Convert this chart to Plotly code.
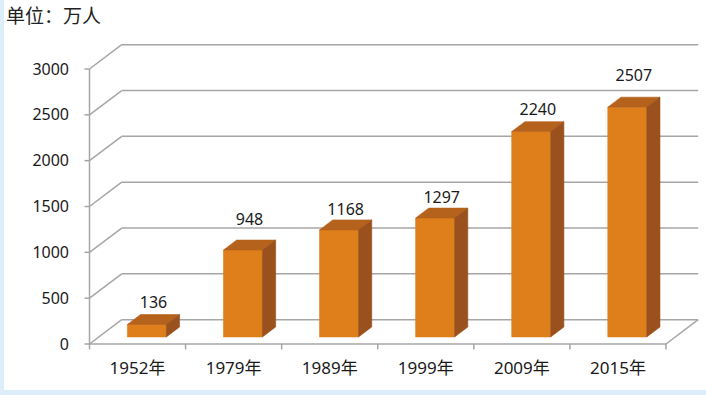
import plotly.graph_objects as go

# ---------------- data ----------------
categories = ["1952年", "1979年", "1989年", "1999年", "2009年", "2015年"]
values = [136, 948, 1168, 1297, 2240, 2507]
y_ticks = [0, 500, 1000, 1500, 2000, 2500, 3000]
unit_label = "单位：万人"

# ---------------- style / geometry ----------------
W, H = 706, 395
L, R, T, B = 80, 2, 40, 40
PX_PER_CAT = 96.08
PX_PER_UNIT = 275 / 3000
ZERO_PX = 344
AXIS_PX = 89.5

plot_w = W - L - R
plot_h = H - T - B
xmin = -(AXIS_PX - L) / PX_PER_CAT
xmax = xmin + plot_w / PX_PER_CAT
ymax = (ZERO_PX - T) / PX_PER_UNIT
ymin = ymax - plot_h / PX_PER_UNIT

DX = 32.2 / PX_PER_CAT          # depth shift in category units
DY = 24.3 / PX_PER_UNIT         # depth shift in value units
Z0, Z1 = 0.29, 0.70             # bar depth extent
BAR_W = 39 / PX_PER_CAT
GRID = "#A6A6A6"
GW = 1.5
FRONT, SIDE, TOP = "#DF7F1B", "#9A511D", "#B5621D"
label_lift_px = [11, 19, 9, 9, 11, 20]
FONT = "Noto Sans, Noto Sans CJK SC, sans-serif"
TXT = "#1a1a1a"

fig = go.Figure()
shapes = []

def line(x0, y0, x1, y1):
    shapes.append(dict(type="line", xref="x", yref="y", x0=x0, y0=y0, x1=x1, y1=y1,
                       line=dict(color=GRID, width=GW), layer="below"))

n = len(categories)
top_val = y_ticks[-1]
# back wall gridlines and left wall diagonals
for v in y_ticks:
    line(DX, v + DY, n + DX, v + DY)
    line(0, v, DX, v + DY)
    # y tick marks
    line(-5 / PX_PER_CAT, v, 0, v)
# left vertical axis
line(0, 0, 0, top_val)
# floor front and right edges
line(0, 0, n, 0)
line(n, 0, n + DX, DY)
# x tick marks at category boundaries
for i in range(n + 1):
    line(i, 0, i, -5.5 / PX_PER_UNIT)

# bars
for i, v in enumerate(values):
    c = i + 0.5
    xl = c - BAR_W / 2 + Z0 * DX
    xr = c + BAR_W / 2 + Z0 * DX
    yb = Z0 * DY
    yt = yb + v
    ddx = (Z1 - Z0) * DX
    ddy = (Z1 - Z0) * DY
    faces = [
        ([xl, xr, xr, xl, xl], [yb, yb, yt, yt, yb], FRONT),
        ([xl, xr, xr + ddx, xl + ddx, xl], [yt, yt, yt + ddy, yt + ddy, yt], TOP),
        ([xr, xr + ddx, xr + ddx, xr, xr], [yb, yb + ddy, yt + ddy, yt, yb], SIDE),
    ]
    for fx, fy, col in faces:
        fig.add_trace(go.Scatter(x=fx, y=fy, fill="toself", fillcolor=col, mode="lines",
                                 line=dict(color=col, width=0.6), hoverinfo="skip",
                                 showlegend=False))

# value labels
lx = [i + 0.5 + (Z0 + Z1) / 2 * DX for i in range(n)]
ly = [v + Z1 * DY + lift / PX_PER_UNIT for v, lift in zip(values, label_lift_px)]
fig.add_trace(go.Scatter(x=lx, y=ly, mode="text", text=[str(v) for v in values],
                         textposition="middle center",
                         textfont=dict(family=FONT, size=16, color=TXT),
                         hoverinfo="skip", showlegend=False, cliponaxis=False))

# background strips (light blue frame)
bg = "#DDEEFB"
shapes.append(dict(type="rect", xref="paper", yref="paper",
                   x0=(0 - L) / plot_w, x1=(4 - L) / plot_w,
                   y0=(H - B - H) / plot_h, y1=(H - B) / plot_h + 0.2,
                   fillcolor=bg, line=dict(width=0), layer="below"))
shapes.append(dict(type="rect", xref="paper", yref="paper",
                   x0=(0 - L) / plot_w, x1=(W - L) / plot_w,
                   y0=(H - B - 395) / plot_h, y1=(H - B - 390) / plot_h,
                   fillcolor=bg, line=dict(width=0), layer="below"))

fig.update_layout(
    width=W, height=H, autosize=False,
    margin=dict(l=L, r=R, t=T, b=B, pad=0),
    paper_bgcolor="white", plot_bgcolor="rgba(0,0,0,0)",
    shapes=shapes,
    showlegend=False,
    annotations=[dict(text=unit_label, xref="paper", yref="paper",
                      x=(4 - L) / plot_w, y=(H - B - 14) / plot_h,
                      xanchor="left", yanchor="middle", showarrow=False,
                      font=dict(family="Noto Sans CJK SC, sans-serif", size=19, color="#222"))],
)
fig.update_xaxes(range=[xmin, xmax], tickvals=[i + 0.5 for i in range(n)], ticktext=categories,
                 ticks="", showgrid=False, zeroline=False, showline=False,
                 tickfont=dict(family=FONT, size=17, color=TXT), ticklabelstandoff=1,
                 fixedrange=True)
fig.update_yaxes(range=[ymin, ymax], tickvals=y_ticks, ticktext=[str(t) for t in y_ticks],
                 ticks="", showgrid=False, zeroline=False, showline=False,
                 tickfont=dict(family=FONT, size=16, color=TXT), ticklabelstandoff=10,
                 fixedrange=True)

fig.write_html("out.html", config={"displayModeBar": False},
               post_script="document.body.style.margin='0';document.body.style.overflow='hidden';")
